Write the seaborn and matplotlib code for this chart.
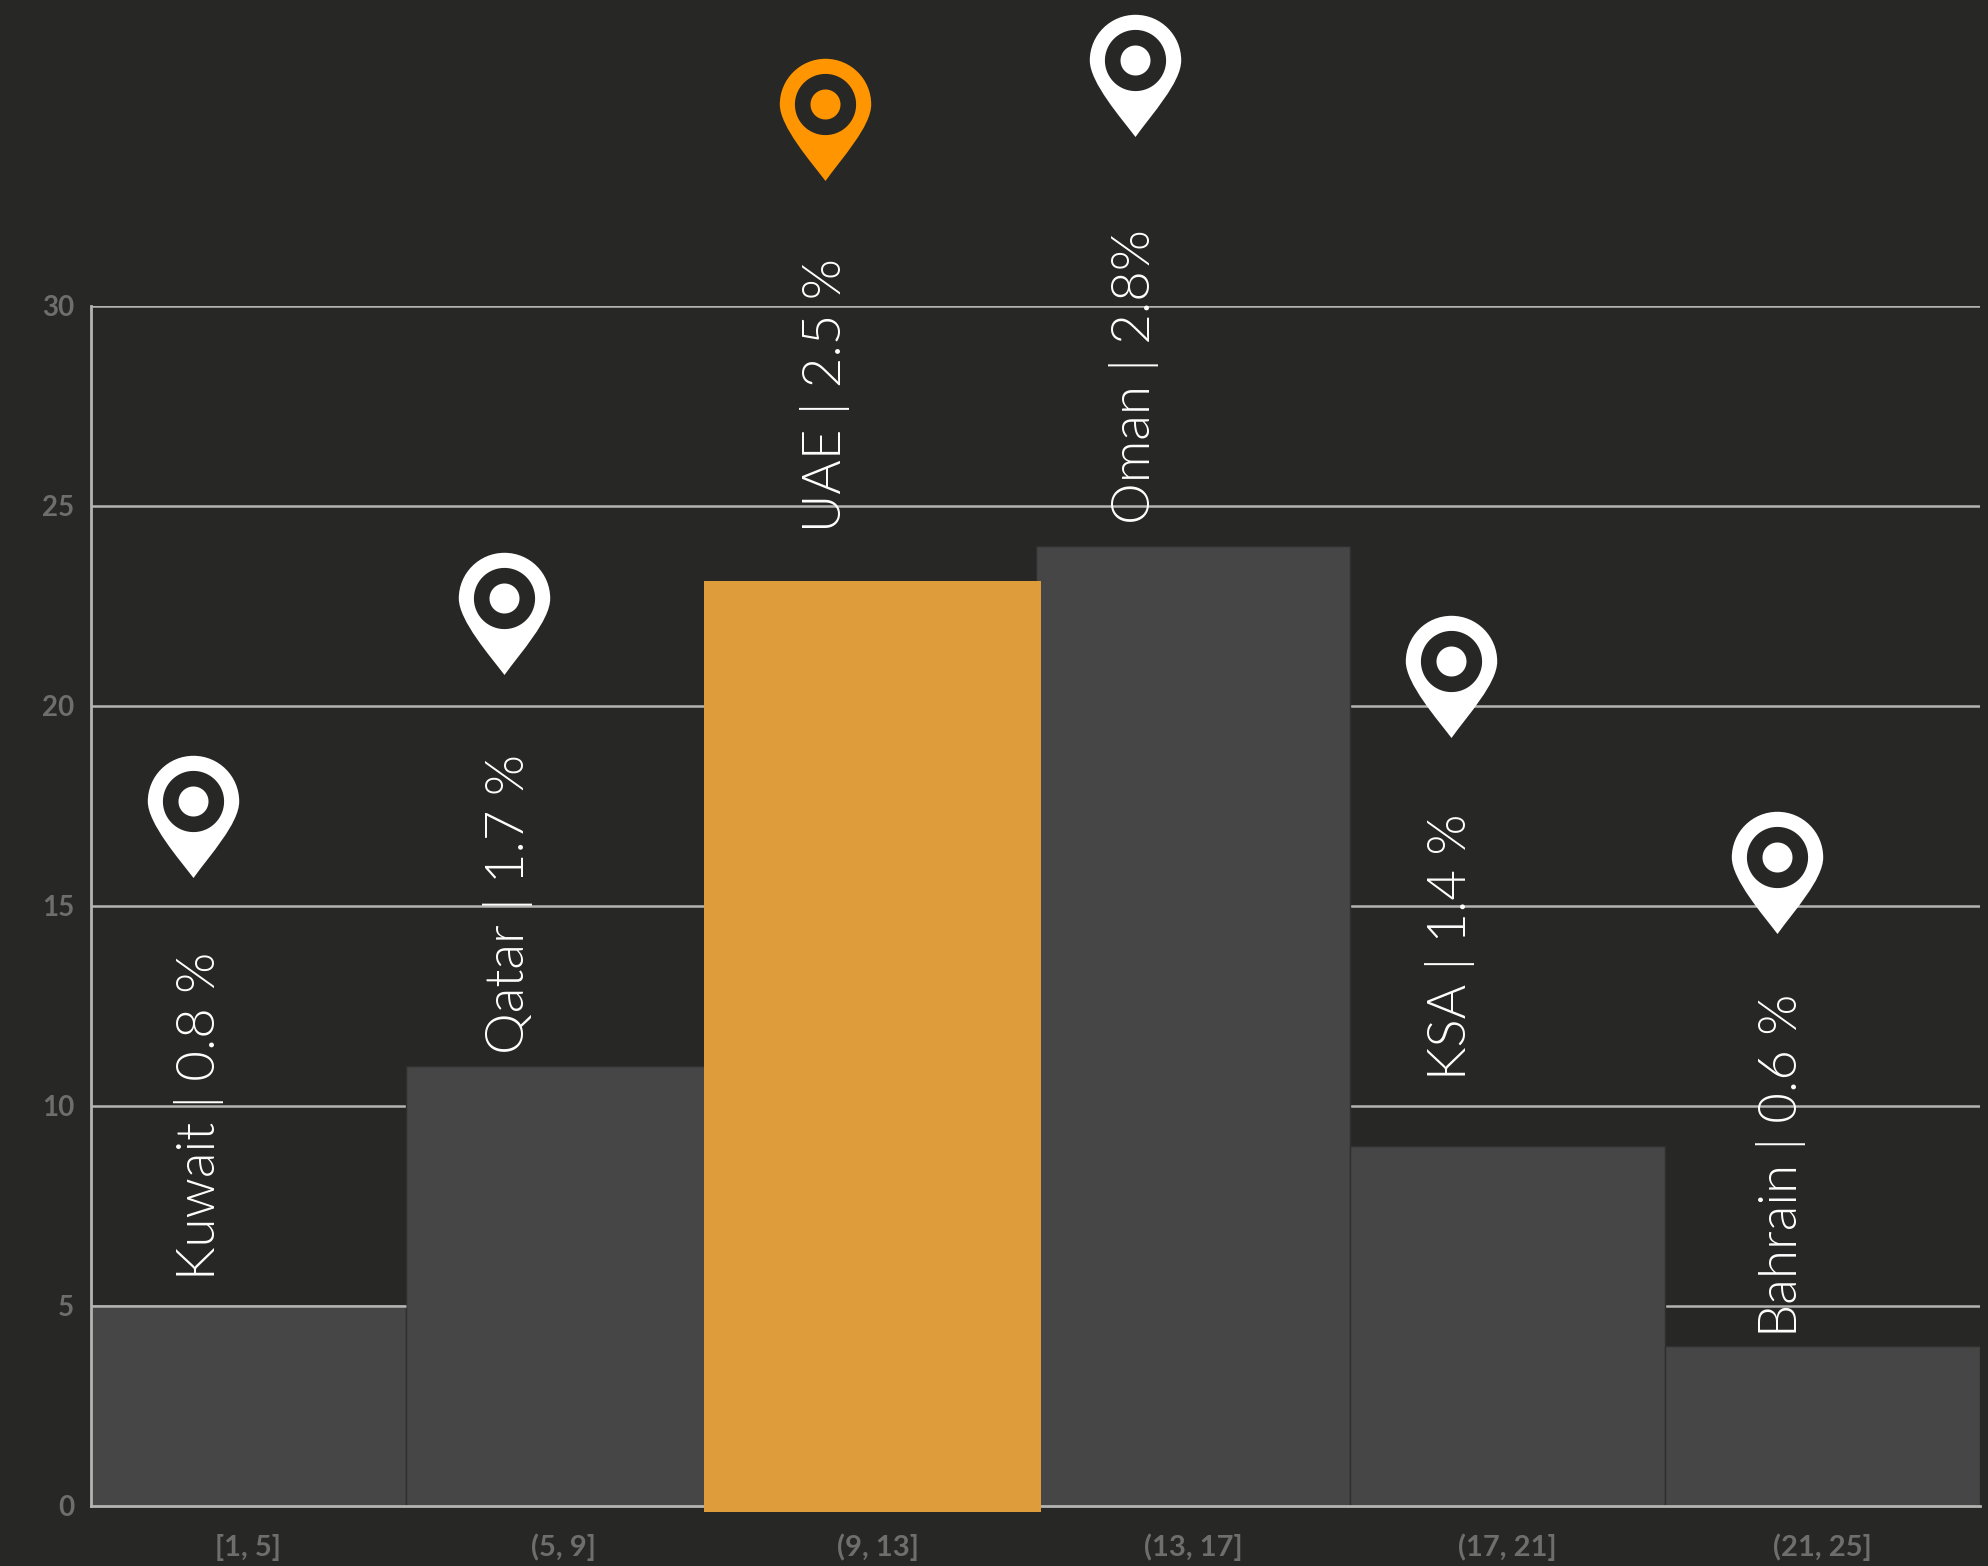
import numpy as np
import matplotlib
matplotlib.use("Agg")
import matplotlib.pyplot as plt
import seaborn as sns
from matplotlib.path import Path

# ==== COLORS ====
bg_color = "#272726"
bar_color = "#464646"
edge_color = "#2f2f2f"
grid_color = "#b4b4b2"
tick_color = "#6e6e6c"
highlight_color = "#de9c3b"
pin_orange = "#ff9500"

# ==== DATA ====
bin_edges = [1, 5, 9, 13, 17, 21, 25]
bin_mids = [3, 7, 11, 15, 19, 23]
bin_counts = [5, 11, 23, 24, 9, 4]
bin_labels = ["[1, 5]", "(5, 9]", "(9, 13]", "(13, 17]", "(17, 21]", "(21, 25]"]
y_ticks = [0, 5, 10, 15, 20, 25, 30]

countries = ["Kuwait", "Qatar", "UAE", "Oman", "KSA", "Bahrain"]
shares = ["0.8 %", "1.7 %", "2.5 %", "2.8%", "1.4 %", "0.6 %"]
pin_x = [2.30, 6.245, 10.33, 14.27, 18.285, 22.425]
pin_y = [17.62, 22.70, 35.05, 36.14, 21.12, 16.22]
label_x = [2.37, 6.30, 10.33, 14.25, 18.26, 22.47]
label_y = [5.64, 11.29, 24.34, 24.54, 10.64, 4.22]

# orange block laid over the (9, 13] bin
highlight_left = 8.785
highlight_right = 13.07
highlight_bottom = -0.15
highlight_top = 23.12

# ==== PIN MARKER ====
def circle(r, reverse=False):
    t = np.linspace(0, 2 * np.pi, 73)
    if reverse:
        t = t[::-1]
    return Path(np.column_stack([r * np.cos(t), r * np.sin(t)]), closed=True)

head = Path(
    [(-45.7, 0), (-45.7, -25.3), (-25.3, -45.7), (0, -45.7),
     (25.3, -45.7), (45.7, -25.3), (45.7, 0),
     (45.7, 22), (16, 54), (0, 76.5),
     (-14, 58), (-45.7, 22), (-45.7, 0), (-45.7, 0)],
    [Path.MOVETO, Path.CURVE4, Path.CURVE4, Path.CURVE4,
     Path.CURVE4, Path.CURVE4, Path.CURVE4,
     Path.CURVE4, Path.CURVE4, Path.CURVE4,
     Path.CURVE4, Path.CURVE4, Path.CURVE4, Path.CLOSEPOLY],
)
pin_path = Path.make_compound_path(head, circle(30.6, reverse=True), circle(15))
# marker y runs upward, the drawing above was made y-down
pin_path = Path(pin_path.vertices * [1, -1], pin_path.codes)

# ==== PLOT ====
sns.set_theme(style="dark")
plt.rcParams["font.family"] = ["Lato", "DejaVu Sans"]

fig = plt.figure(figsize=(19.88, 15.66), dpi=100, facecolor=bg_color)
ax = fig.add_axes([91 / 1988, 60 / 1566, 1889 / 1988, 1200 / 1566], facecolor=bg_color)

sns.histplot(
    x=bin_mids,
    weights=bin_counts,
    bins=bin_edges,
    color=bar_color,
    edgecolor=edge_color,
    linewidth=1,
    alpha=1,
    ax=ax,
)

ax.bar(
    [highlight_left],
    [highlight_top - highlight_bottom],
    width=highlight_right - highlight_left,
    bottom=highlight_bottom,
    align="edge",
    color=highlight_color,
    linewidth=0,
    clip_on=False,
    zorder=3,
)

# The 5 gridline shows along the top of the first bar
ax.hlines(bin_counts[0], bin_edges[0], bin_edges[1], color=grid_color, linewidth=1.8, zorder=2.5)

# Pins, custom marker
for i in range(len(pin_x)):
    sns.scatterplot(
        x=[pin_x[i]],
        y=[pin_y[i]],
        marker=pin_path,
        s=12138,
        color=pin_orange if countries[i] == "UAE" else "white",
        linewidth=0,
        clip_on=False,
        zorder=5,
        ax=ax,
    )

# Rotated country labels
for i in range(len(countries)):
    ax.text(
        label_x[i], label_y[i], countries[i] + " | " + shares[i],
        rotation=90, ha="center", va="bottom",
        color="white", fontsize=38, fontweight=300, zorder=6, clip_on=False,
    )

# Final styling
ax.set_xlim(1, 25)
ax.set_ylim(0, 30)
ax.set_xticks(bin_mids, bin_labels)
ax.set_yticks(y_ticks)
ax.set_xlabel("")
ax.set_ylabel("")
ax.tick_params(axis="x", labelsize=21, colors=tick_color, length=0, pad=20)
ax.tick_params(axis="y", labelsize=20, colors=tick_color, length=0, pad=12)
for lab in ax.get_xticklabels() + ax.get_yticklabels():
    lab.set_fontweight("bold")
ax.yaxis.grid(True, color=grid_color, linewidth=1.8)
ax.xaxis.grid(False)
ax.set_axisbelow(True)
for side in ["top", "right"]:
    ax.spines[side].set_visible(False)
for side in ["left", "bottom"]:
    ax.spines[side].set_visible(True)
    ax.spines[side].set_color(grid_color)
    ax.spines[side].set_linewidth(2)

fig.savefig("out.png", dpi=100, facecolor=bg_color)
